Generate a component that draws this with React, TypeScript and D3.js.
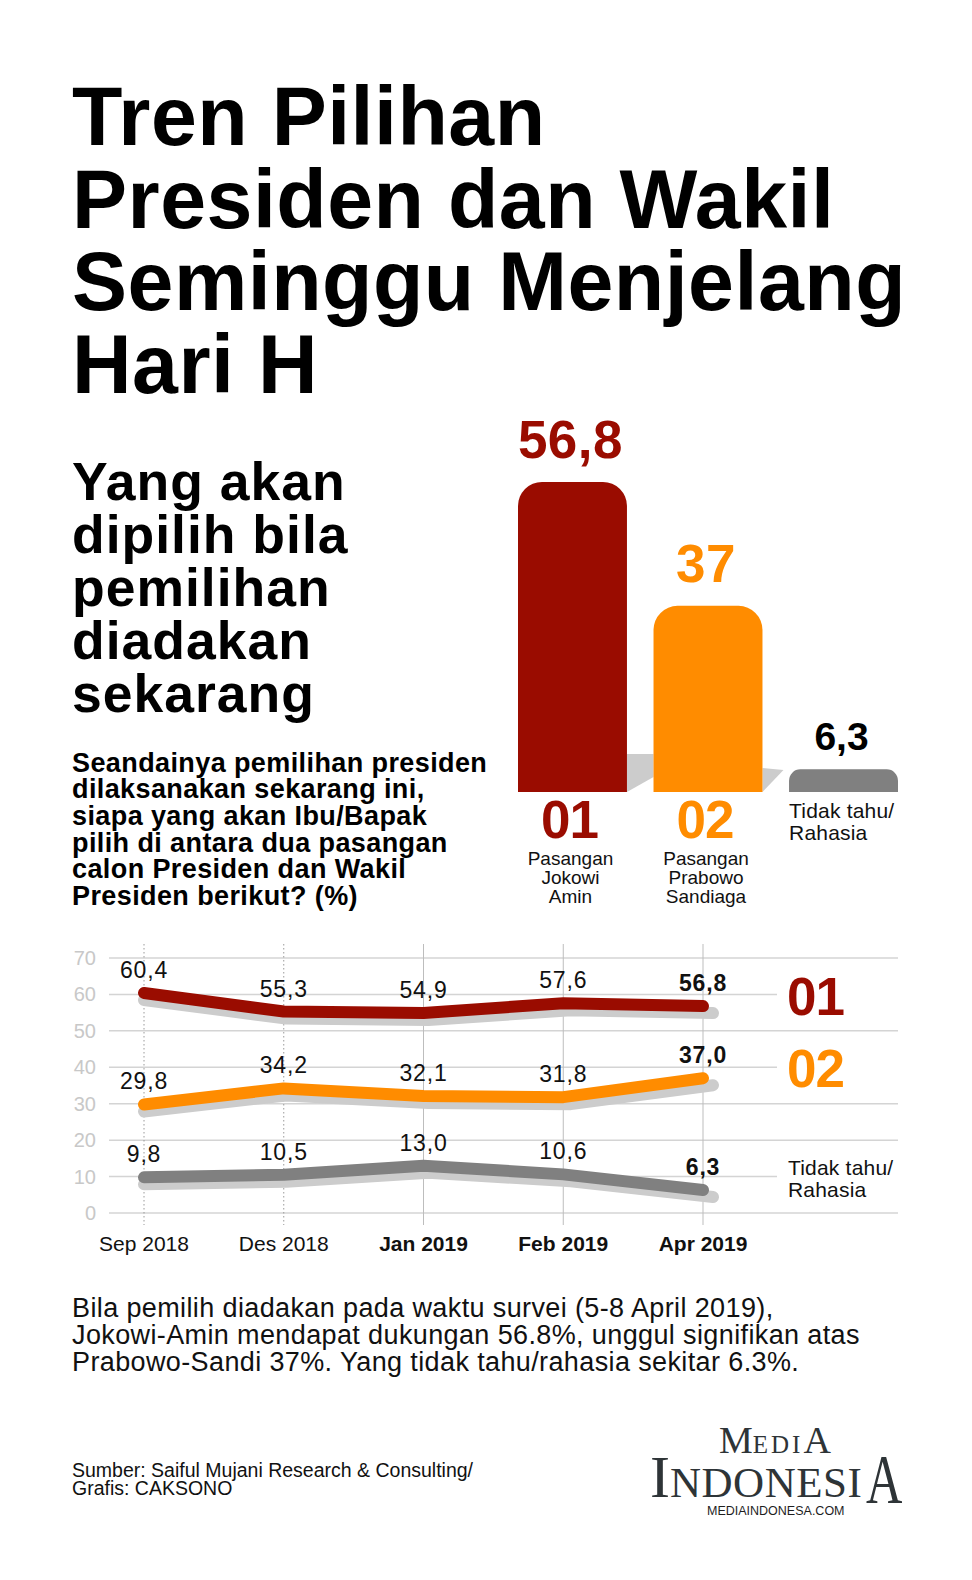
import React from 'react';
import * as d3 from 'd3';

// ---------- DATA ----------
const titleLines = ['Tren Pilihan', 'Presiden dan Wakil', 'Seminggu Menjelang', 'Hari H'];
const headingLines = ['Yang akan', 'dipilih bila', 'pemilihan', 'diadakan', 'sekarang'];
const questionLines = [
  'Seandainya pemilihan presiden',
  'dilaksanakan sekarang ini,',
  'siapa yang akan Ibu/Bapak',
  'pilih di antara dua pasangan',
  'calon Presiden dan Wakil',
  'Presiden berikut? (%)',
];
const barCategories = ['01', '02', 'TT'];
const barValues = [56.8, 37, 6.3];
const barValueLabels = ['56,8', '37', '6,3'];
const barSubLabels = [['Pasangan', 'Jokowi', 'Amin'], ['Pasangan', 'Prabowo', 'Sandiaga'], []];

const periods = ['Sep 2018', 'Des 2018', 'Jan 2019', 'Feb 2019', 'Apr 2019'];
const boldPeriods = [false, false, true, true, true];
const dottedPeriods = [true, true, false, false, false];
const series01 = [60.4, 55.3, 54.9, 57.6, 56.8];
const series02 = [29.8, 34.2, 32.1, 31.8, 37.0];
const seriesTT = [9.8, 10.5, 13.0, 10.6, 6.3];
const yTicks = [0, 10, 20, 30, 40, 50, 60, 70];
const shortTicks = [60, 40, 10];

const paragraphLines = [
  'Bila pemilih diadakan pada waktu survei (5-8 April 2019),',
  'Jokowi-Amin mendapat dukungan 56.8%, unggul signifikan atas',
  'Prabowo-Sandi 37%. Yang tidak tahu/rahasia sekitar 6.3%.',
];
const footerLines = ['Sumber: Saiful Mujani Research & Consulting/', 'Grafis: CAKSONO'];

// ---------- STYLE ----------
const FONT = '"Liberation Sans", Arial, Helvetica, sans-serif';
const SERIF = '"Liberation Serif", "DejaVu Serif", serif';
const RED = '#9a0c00';
const ORANGE = '#ff8c00';
const GRAY = '#808080';
const SHADOW = '#cccccc';
const barColors = [RED, ORANGE, GRAY];
const lineColors = [RED, ORANGE, GRAY];

const fmt = (v: number) => d3.format('.1f')(v).replace('.', ',');

function topRoundedBar(x: number, y: number, w: number, h: number, r: number) {
  const rr = Math.min(r, h, w / 2);
  const p = d3.path();
  p.moveTo(x, y + h);
  p.lineTo(x, y + rr);
  p.arcTo(x, y, x + rr, y, rr);
  p.lineTo(x + w - rr, y);
  p.arcTo(x + w, y, x + w, y + rr, rr);
  p.lineTo(x + w, y + h);
  p.closePath();
  return p.toString();
}

export default function App() {
  // Bar chart scales
  const barBase = 792;
  const xBar = d3.scaleBand<string>().domain(barCategories).range([518, 898]).paddingInner(0.196);
  const hBar = d3.scalePow().exponent(1.19).domain([0, 56.8]).range([0, 310]);
  const bw = xBar.bandwidth();

  // Line chart scales
  const xL = d3.scalePoint<string>().domain(periods).range([144, 703]);
  const yL = d3.scaleLinear().domain([0, 70]).range([1213, 958]);
  const allSeries = [series01, series02, seriesTT];
  const line = d3
    .line<number>()
    .x((_, i) => xL(periods[i]) as number)
    .y((d) => yL(d));
  const shadowLine = d3
    .line<number>()
    .x((_, i) => (xL(periods[i]) as number) + i * 2.5)
    .y((d) => yL(d) + 7);

  const x0 = xBar('01') as number;
  const x1 = xBar('02') as number;
  const x2 = xBar('TT') as number;

  return (
    <div style={{ position: 'absolute', left: 0, top: 0 }}>
      <svg width={972} height={1580} viewBox="0 0 972 1580" style={{ display: 'block', background: '#fff' }}>
        <rect x={0} y={0} width={972} height={1580} fill="#fff" />

        {/* Title */}
        {titleLines.map((t, i) => (
          <text key={t} x={72} y={145 + i * 82.7} fontFamily={FONT} fontWeight={700} fontSize={82.5} letterSpacing={0.5} fill="#000">
            {t}
          </text>
        ))}

        {/* Heading */}
        {headingLines.map((t, i) => (
          <text key={t} x={72} y={500 + i * 53} fontFamily={FONT} fontWeight={700} fontSize={53.5} letterSpacing={1} fill="#000">
            {t}
          </text>
        ))}

        {/* Question */}
        {questionLines.map((t, i) => (
          <text key={t} x={72} y={771.5 + i * 26.7} fontFamily={FONT} fontWeight={700} fontSize={27} letterSpacing={0.4} fill="#000">
            {t}
          </text>
        ))}

        {/* Bar shadows */}
        <polygon
          points={`${x0 + bw},${barBase} ${x0 + bw},${barBase - 38} ${x1},${barBase - 38} ${x1},${barBase - 15}`}
          fill={SHADOW}
        />
        <polygon
          points={`${x1 + bw},${barBase} ${x1 + bw},${barBase - 24} ${x1 + bw + 21},${barBase - 22}`}
          fill={SHADOW}
        />

        {/* Bars */}
        {barCategories.map((c, i) => {
          const h = hBar(barValues[i]);
          const x = xBar(c) as number;
          const top = barBase - h;
          return (
            <g key={c}>
              <path d={topRoundedBar(x, top, bw, h, Math.min(24, h * 0.5))} fill={barColors[i]} />
              <text
                x={x + bw / 2 - 2}
                y={top - (i === 2 ? 19 : 24)}
                textAnchor="middle"
                fontFamily={FONT}
                fontWeight={700}
                fontSize={i === 2 ? 39 : 53}
                letterSpacing={i === 2 ? 0 : 0.5}
                fill={i === 2 ? '#000' : barColors[i]}
              >
                {barValueLabels[i]}
              </text>
            </g>
          );
        })}

        {/* Bar category labels */}
        {['01', '02'].map((c, i) => (
          <g key={c}>
            <text
              x={(xBar(c) as number) + bw / 2 - 3}
              y={838}
              textAnchor="middle"
              fontFamily={FONT}
              fontWeight={700}
              fontSize={53}
              letterSpacing={-1}
              fill={barColors[i]}
            >
              {c}
            </text>
            {barSubLabels[i].map((s, j) => (
              <text
                key={s}
                x={(xBar(c) as number) + bw / 2 - 2}
                y={865 + j * 19}
                textAnchor="middle"
                fontFamily={FONT}
                fontSize={19}
                fill="#111"
              >
                {s}
              </text>
            ))}
          </g>
        ))}
        <text x={x2} y={818} fontFamily={FONT} fontSize={21} letterSpacing={0.2} fill="#111">
          Tidak tahu/
        </text>
        <text x={x2} y={840} fontFamily={FONT} fontSize={21} letterSpacing={0.2} fill="#111">
          Rahasia
        </text>

        {/* Line chart grid */}
        {yTicks.map((t) => (
          <g key={t}>
            <line
              x1={109}
              x2={shortTicks.includes(t) ? 777 : 898}
              y1={yL(t)}
              y2={yL(t)}
              stroke="#d4d4d4"
              strokeWidth={1.5}
            />
            <text x={96} y={yL(t) + 7} textAnchor="end" fontFamily={FONT} fontSize={20} fill="#c8c8c8">
              {t}
            </text>
          </g>
        ))}
        {periods.map((p, i) => (
          <line
            key={p}
            x1={xL(p) as number}
            x2={xL(p) as number}
            y1={944}
            y2={1225}
            stroke={dottedPeriods[i] ? '#9a9a9a' : '#bdbdbd'}
            strokeWidth={1}
            strokeDasharray={dottedPeriods[i] ? '1.5,2.5' : undefined}
          />
        ))}

        {/* Shadows */}
        {allSeries.map((s, k) => (
          <path
            key={'sh' + k}
            d={shadowLine(s) as string}
            fill="none"
            stroke={SHADOW}
            strokeWidth={12}
            strokeLinecap="round"
            strokeLinejoin="round"
          />
        ))}
        {/* Lines */}
        {allSeries.map((s, k) => (
          <path
            key={'ln' + k}
            d={line(s) as string}
            fill="none"
            stroke={lineColors[k]}
            strokeWidth={12}
            strokeLinecap="round"
            strokeLinejoin="round"
          />
        ))}

        {/* Value labels */}
        {allSeries.map((s, k) =>
          s.map((v, i) => (
            <text
              key={`v${k}-${i}`}
              x={xL(periods[i]) as number}
              y={yL(v) - 15}
              textAnchor="middle"
              fontFamily={FONT}
              fontWeight={i === s.length - 1 ? 700 : 400}
              fontSize={23}
              letterSpacing={0.8}
              fill="#111"
            >
              {fmt(v)}
            </text>
          ))
        )}

        {/* X labels */}
        {periods.map((p, i) => (
          <text
            key={'x' + p}
            x={xL(p) as number}
            y={1251}
            textAnchor="middle"
            fontFamily={FONT}
            fontWeight={boldPeriods[i] ? 700 : 400}
            fontSize={21}
            fill="#111"
          >
            {p}
          </text>
        ))}

        {/* Line legends */}
        <text x={787} y={1015} fontFamily={FONT} fontWeight={700} fontSize={53} letterSpacing={-1} fill={RED}>
          01
        </text>
        <text x={787} y={1087} fontFamily={FONT} fontWeight={700} fontSize={53} letterSpacing={-1} fill={ORANGE}>
          02
        </text>
        <text x={788} y={1175} fontFamily={FONT} fontSize={21} letterSpacing={0.2} fill="#111">
          Tidak tahu/
        </text>
        <text x={788} y={1197} fontFamily={FONT} fontSize={21} letterSpacing={0.2} fill="#111">
          Rahasia
        </text>

        {/* Paragraph */}
        {paragraphLines.map((t, i) => (
          <text key={t} x={72} y={1317 + i * 27} fontFamily={FONT} fontSize={27} letterSpacing={0.38} fill="#111">
            {t}
          </text>
        ))}

        {/* Footer */}
        {footerLines.map((t, i) => (
          <text key={t} x={72} y={1477 + i * 18} fontFamily={FONT} fontSize={19.5} fill="#111">
            {t}
          </text>
        ))}

        {/* Logo */}
        <g fill="#2e3437" fontFamily={SERIF}>
          <text x={719} y={1453}>
            <tspan fontSize={38}>M</tspan>
            <tspan fontSize={25} letterSpacing={3}>EDI</tspan>
            <tspan fontSize={38}>A</tspan>
          </text>
          <text x={650} y={1497}>
            <tspan fontSize={60}>I</tspan>
            <tspan fontSize={43} letterSpacing={0.5}>NDONESI</tspan>
          </text>
          <text x={866} y={1503} fontSize={70} transform="translate(866,1503) scale(0.72,1) translate(-866,-1503)">
            A
          </text>
          <text x={707} y={1515} fontFamily={FONT} fontSize={12.5} fill="#1e1e1e">
            MEDIAINDONESA.COM
          </text>
        </g>
      </svg>
    </div>
  );
}
